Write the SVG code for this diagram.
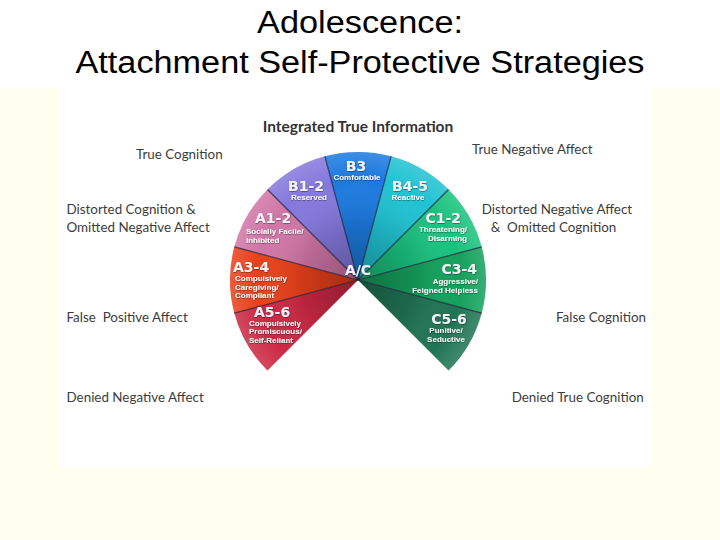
<svg xmlns="http://www.w3.org/2000/svg" width="720" height="540" viewBox="0 0 720 540">
<defs>
<style>
.seg{stroke:none}
.div{stroke:#1c1c34;stroke-width:1.2;stroke-opacity:0.75}
.big{font-family:"DejaVu Sans",Verdana,sans-serif;font-weight:bold;font-size:14px;fill:#f4f4f8;filter:url(#sh)}
.sm{font-family:"Liberation Sans",Arial,sans-serif;font-weight:bold;font-size:8px;fill:#f8f8f8;filter:url(#sh)}
.out{font-family:Lato,"Open Sans",sans-serif;font-size:13.4px;fill:#3c3c3c}
.ttl{font-family:"Liberation Sans",Arial,sans-serif;font-size:31px;fill:#000}
</style>
<radialGradient id="shade" gradientUnits="userSpaceOnUse" cx="358" cy="280" r="128">
<stop offset="0" stop-color="#000" stop-opacity="0.3"/>
<stop offset="0.45" stop-color="#000" stop-opacity="0.1"/>
<stop offset="0.8" stop-color="#fff" stop-opacity="0"/>
<stop offset="1" stop-color="#fff" stop-opacity="0.15"/>
</radialGradient>
<filter id="sh" x="-10%" y="-30%" width="120%" height="160%">
<feDropShadow dx="0.4" dy="0.6" stdDeviation="0.5" flood-color="#000" flood-opacity="0.55"/>
</filter>
</defs>
<rect width="720" height="540" fill="#fffff0"/>
<rect x="0" y="0" width="720" height="88" fill="#ffffff"/>
<rect x="60" y="88" width="592" height="380" fill="#ffffff"/>

<g id="title">
<text class="ttl" x="360" y="33" text-anchor="middle" textLength="206" lengthAdjust="spacingAndGlyphs">Adolescence:</text>
<text class="ttl" x="360" y="73" text-anchor="middle" textLength="569" lengthAdjust="spacingAndGlyphs">Attachment Self-Protective Strategies</text>
</g>

<g id="fan">
<g id="A5-6"><path class="seg" fill="#cc2843" d="M358,280 L267.49,370.51 A128,128 0 0 1 234.36,313.13 Z"/></g>
<g id="A3-4"><path class="seg" fill="#e8401a" d="M358,280 L234.36,313.13 A128,128 0 0 1 234.36,246.87 Z"/></g>
<g id="A1-2"><path class="seg" fill="#d076a6" d="M358,280 L234.36,246.87 A128,128 0 0 1 267.49,189.49 Z"/></g>
<g id="B1-2"><path class="seg" fill="#8478dc" d="M358,280 L267.49,189.49 A128,128 0 0 1 324.87,156.36 Z"/></g>
<g id="B3"><path class="seg" fill="#1c7ade" d="M358,280 L324.87,156.36 A128,128 0 0 1 391.13,156.36 Z"/></g>
<g id="B4-5"><path class="seg" fill="#20c2d2" d="M358,280 L391.13,156.36 A128,128 0 0 1 448.51,189.49 Z"/></g>
<g id="C1-2"><path class="seg" fill="#1ac27e" d="M358,280 L448.51,189.49 A128,128 0 0 1 481.64,246.87 Z"/></g>
<g id="C3-4"><path class="seg" fill="#14a05c" d="M358,280 L481.64,246.87 A128,128 0 0 1 481.64,313.13 Z"/></g>
<g id="C5-6"><path class="seg" fill="#207454" d="M358,280 L481.64,313.13 A128,128 0 0 1 448.51,370.51 Z"/></g>
<path fill="url(#shade)" d="M358,280 L267.49,370.51 A128,128 0 1 1 448.51,370.51 Z"/>
<g id="dividers">
<line class="div" x1="358" y1="280" x2="234.36" y2="313.13"/>
<line class="div" x1="358" y1="280" x2="234.36" y2="246.87"/>
<line class="div" x1="358" y1="280" x2="267.49" y2="189.49"/>
<line class="div" x1="358" y1="280" x2="324.87" y2="156.36"/>
<line class="div" x1="358" y1="280" x2="391.13" y2="156.36"/>
<line class="div" x1="358" y1="280" x2="448.51" y2="189.49"/>
<line class="div" x1="358" y1="280" x2="481.64" y2="246.87"/>
<line class="div" x1="358" y1="280" x2="481.64" y2="313.13"/>
</g>
</g>

<g id="fan-labels">
<text class="big" x="356" y="171" text-anchor="middle">B3</text>
<text class="sm" x="357" y="180" text-anchor="middle">Comfortable</text>
<text class="big" x="306" y="191" text-anchor="middle">B1-2</text>
<text class="sm" x="309" y="199.5" text-anchor="middle">Reserved</text>
<text class="big" x="410" y="191" text-anchor="middle">B4-5</text>
<text class="sm" x="408" y="199.5" text-anchor="middle">Reactive</text>
<text class="big" x="255" y="223" text-anchor="start">A1-2</text>
<text class="sm" x="246" y="234">Socially Facile/</text>
<text class="sm" x="246" y="243">Inhibited</text>
<text class="big" x="461" y="223" text-anchor="end">C1-2</text>
<text class="sm" x="467" y="232" text-anchor="end">Threatening/</text>
<text class="sm" x="467" y="241" text-anchor="end">Disarming</text>
<text class="big" x="233" y="272">A3-4</text>
<text class="sm" x="235" y="281">Compulsively</text>
<text class="sm" x="235" y="289.5">Caregiving/</text>
<text class="sm" x="235" y="298">Compliant</text>
<text class="big" x="358" y="275" text-anchor="middle">A/C</text>
<text class="big" x="477" y="274" text-anchor="end">C3-4</text>
<text class="sm" x="478" y="283.5" text-anchor="end">Aggressive/</text>
<text class="sm" x="478" y="292.5" text-anchor="end">Feigned Helpless</text>
<text class="big" x="254" y="317">A5-6</text>
<text class="sm" x="249" y="325.5">Compulsively</text>
<text class="sm" x="249" y="334">Promiscuous/</text>
<text class="sm" x="249" y="342.5">Self-Reliant</text>
<text class="big" x="449" y="324" text-anchor="middle">C5-6</text>
<text class="sm" x="446" y="333" text-anchor="middle">Punitive/</text>
<text class="sm" x="446" y="341.5" text-anchor="middle">Seductive</text>
</g>

<g id="header">
<text x="358" y="132" text-anchor="middle" font-family="Lato, 'Open Sans', sans-serif" font-weight="bold" font-size="15.5" fill="#333333">Integrated True Information</text>
</g>

<g id="outer-labels">
<text class="out" x="136" y="159.3">True Cognition</text>
<text class="out" x="472" y="154.3">True Negative Affect</text>
<text class="out" x="66.5" y="214">Distorted Cognition &amp;</text>
<text class="out" x="66.5" y="231.7">Omitted Negative Affect</text>
<text class="out" x="481.7" y="214">Distorted Negative Affect</text>
<text class="out" x="490.7" y="231.7" xml:space="preserve">&amp;  Omitted Cognition</text>
<text class="out" x="66.5" y="322.3" xml:space="preserve">False  Positive Affect</text>
<text class="out" x="556" y="322.3">False Cognition</text>
<text class="out" x="66.5" y="402.3">Denied Negative Affect</text>
<text class="out" x="511.7" y="402.3">Denied True Cognition</text>
</g>

<g id="connectors"/>
</svg>
